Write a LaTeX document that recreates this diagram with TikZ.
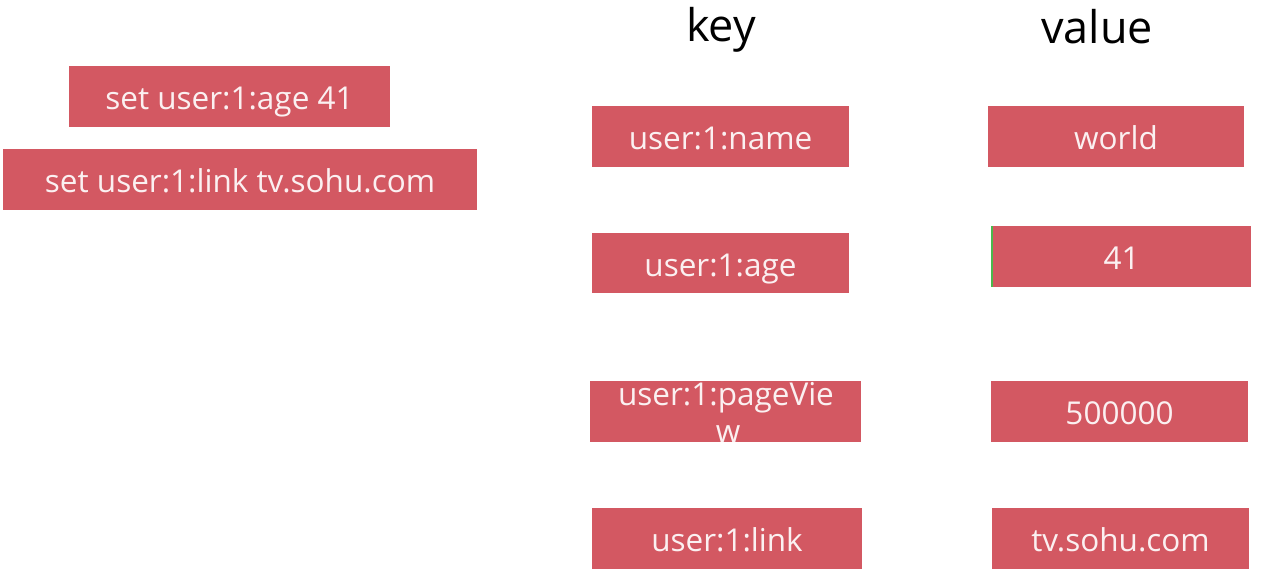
\documentclass[tikz,border=0pt]{standalone}
\usepackage{fontspec}
\setmainfont{Open Sans}
\definecolor{boxred}{HTML}{D35862}
\definecolor{txtw}{HTML}{FBF0F1}
\begin{document}
\begin{tikzpicture}[x=1pt,y=-1pt,
  box/.style={fill=boxred, draw=none, inner sep=0pt, text=txtw,
    font=\fontsize{31.5}{36}\selectfont, minimum height=61pt,
    text height=26pt, text depth=0pt},
  ltxt/.style={text=txtw, inner sep=0pt, anchor=base, font=\fontsize{31.5}{36}\selectfont},
  head/.style={inner sep=0pt, font=\fontsize{45}{50}\selectfont, text=black}]
\useasboundingbox (0,0) rectangle (1273,586);
\fill[white] (0,0) rectangle (1273,586);
\node[box, minimum width=321pt] (cmd1) at (229.5,96.5) {set user:1:age 41};
\node[box, minimum width=474pt] (cmd2) at (240,179.5) {set user:1:link tv.sohu.com};
\node[head] (key) at (721,30) {key};
\node[head] (val) at (1097,27) {value};
\node[box, minimum width=257pt] (k1) at (720.5,136.5) {user:1:name};
\node[box, minimum width=256pt] (v1) at (1116,136.5) {world};
\node[box, minimum width=257pt, minimum height=60pt] (k2) at (720.5,263) {user:1:age};
\node[box, minimum width=259pt] (v2) at (1121.5,256.5) {41};
\node[box, minimum width=271pt] (k3) at (725.5,411.5) {};
\node[ltxt] (k3a) at (726,405) {user:1:pageVie};
\node[ltxt] (k3b) at (728,442) {w};
\node[box, minimum width=257pt] (v3) at (1119.5,411.5) {500000};
\node[box, minimum width=270pt] (k4) at (727,538.5) {user:1:link};
\node[box, minimum width=257pt] (v4) at (1120.5,538.5) {tv.sohu.com};
\draw[green!60!black!70, line width=1.5pt] (v2.north west) -- (v2.south west);
\end{tikzpicture}
\end{document}
